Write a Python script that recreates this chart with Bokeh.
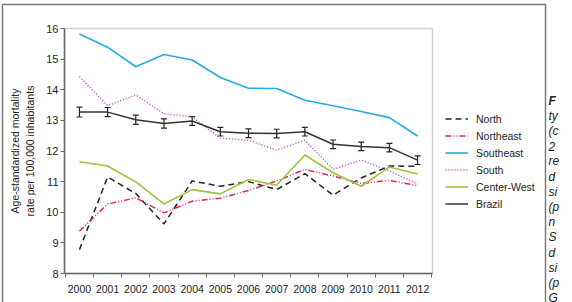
import math
from bokeh.plotting import figure
from bokeh.models import (ColumnDataSource, FixedTicker, Legend, LegendItem,
                          Whisker, TeeHead, Label, BoxAnnotation)
from bokeh.embed import file_html
from bokeh.resources import INLINE

# Age-standardized mortality rate per 100,000 inhabitants, by region
years = list(range(2000, 2013))
year_labels = [str(y) for y in years]
north = [8.78, 11.15, 10.61, 9.62, 11.02, 10.85, 11.00, 10.74, 11.26, 10.56, 11.12, 11.51, 11.50]
northeast = [9.38, 10.27, 10.47, 9.98, 10.36, 10.46, 10.71, 11.02, 11.40, 11.18, 10.94, 11.04, 10.87]
southeast = [15.82, 15.39, 14.75, 15.15, 14.97, 14.40, 14.05, 14.04, 13.66, 13.48, 13.29, 13.09, 12.49]
south = [14.43, 13.48, 13.83, 13.22, 13.11, 12.42, 12.35, 12.03, 12.35, 11.40, 11.70, 11.35, 10.92]
center_west = [11.65, 11.51, 10.99, 10.27, 10.74, 10.60, 11.07, 10.88, 11.87, 11.29, 10.85, 11.48, 11.25]
brazil = [13.27, 13.27, 13.02, 12.90, 12.98, 12.63, 12.58, 12.57, 12.63, 12.22, 12.15, 12.11, 11.70]
brazil_err = [0.16, 0.15, 0.15, 0.15, 0.14, 0.14, 0.14, 0.14, 0.14, 0.14, 0.14, 0.14, 0.14]
y_ticks = [8, 9, 10, 11, 12, 13, 14, 15, 16]
y_title = ["Age-standardized mortality", "rate per 100,000 inhabitants"]

# caption fragments at the right edge
caption = ["F", "ty", "(c", "2", "re", "d", "si", "(p", "n", "S", "d", "si", "(p", "G"]

SANS = "Liberation Sans"
W, H = 572, 302
# pixel box of the chart area inside the canvas
BOX_L, BOX_R, BOX_T, BOX_B = 64, 432, 28, 273
X_LO, X_HI = years[0] - 0.53, years[-1] + 0.53
Y_LO, Y_HI = y_ticks[0], y_ticks[-1]

# the frame fills the whole canvas; ranges are chosen so the chart area lands on the box above
sx = (BOX_R - BOX_L) / (X_HI - X_LO)
sy = (BOX_B - BOX_T) / (Y_HI - Y_LO)
x_range = (X_LO - BOX_L / sx, X_HI + (W - BOX_R) / sx)
y_range = (Y_LO - (H - BOX_B) / sy, Y_HI + BOX_T / sy)


def px_x(px):
    return x_range[0] + px / sx


def px_y(py):
    return y_range[1] - py / sy


p = figure(width=W, height=H, output_backend="svg", toolbar_location=None,
           x_range=x_range, y_range=y_range, min_border=0)
p.background_fill_color = "white"
p.border_fill_color = "white"
p.outline_line_color = None
p.grid.visible = False

# x axis: labels at year centres, tick marks on the year boundaries
xa = p.xaxis[0]
xa.fixed_location = Y_LO
xa.bounds = (X_LO, X_HI)
xa.ticker = FixedTicker(ticks=years, minor_ticks=[y + 0.5 for y in range(1999, 2013)])
xa.major_label_overrides = {y: s for y, s in zip(years, year_labels)}
xa.major_tick_line_color = None
xa.minor_tick_in = 0
xa.minor_tick_out = 4
xa.minor_tick_line_color = "#666666"
xa.axis_line_color = "#666666"
xa.axis_line_width = 1.5
xa.major_label_standoff = 5
xa.major_label_text_font = SANS
xa.major_label_text_font_size = "10.5px"
xa.major_label_text_color = "#222222"

ya = p.yaxis[0]
ya.fixed_location = X_LO
ya.bounds = (Y_LO, Y_HI)
ya.ticker = FixedTicker(ticks=y_ticks, minor_ticks=[])
ya.major_tick_in = 0
ya.major_tick_out = 4
ya.major_tick_line_color = "#666666"
ya.axis_line_color = "#666666"
ya.axis_line_width = 1.5
ya.major_label_standoff = 2
ya.major_label_text_font = SANS
ya.major_label_text_font_size = "11px"
ya.major_label_text_color = "#222222"

# top and right edges of the chart box
p.add_layout(BoxAnnotation(left=X_LO, right=X_HI, bottom=Y_LO, top=Y_HI,
                           fill_alpha=0, line_color="#666666", line_width=1.5, level="underlay"))

# outer panel border: left, top and right sides, running past the bottom edge
p.line(x=[px_x(2), px_x(2), px_x(545), px_x(545)],
       y=[px_y(H + 10), px_y(4), px_y(4), px_y(H + 10)],
       line_color="#7a7a7a", line_width=1.5)

src = ColumnDataSource(dict(year=years, north=north, northeast=northeast, southeast=southeast,
                            south=south, center_west=center_west, brazil=brazil,
                            lo=[b - e for b, e in zip(brazil, brazil_err)],
                            hi=[b + e for b, e in zip(brazil, brazil_err)]))

r_n = p.line("year", "north", source=src, line_color="#222222", line_width=1.5, line_dash="6 4")
r_ne = p.line("year", "northeast", source=src, line_color="#DD2A62", line_width=1.5, line_dash="6 2 1 2 1 2")
r_se = p.line("year", "southeast", source=src, line_color="#26AAE2", line_width=1.6)
r_s = p.line("year", "south", source=src, line_color="#B846C0", line_width=1.5, line_dash="1 2")
r_cw = p.line("year", "center_west", source=src, line_color="#9CC43C", line_width=1.6)
r_br = p.line("year", "brazil", source=src, line_color="#333333", line_width=1.5)

p.add_layout(Whisker(base="year", lower="lo", upper="hi", source=src,
                     line_color="#222222", line_width=1.2,
                     upper_head=TeeHead(size=6, line_color="#222222", line_width=1.2),
                     lower_head=TeeHead(size=6, line_color="#222222", line_width=1.2)))

legend = Legend(items=[
    LegendItem(label="North", renderers=[r_n]),
    LegendItem(label="Northeast", renderers=[r_ne]),
    LegendItem(label="Southeast", renderers=[r_se]),
    LegendItem(label="South", renderers=[r_s]),
    LegendItem(label="Center-West", renderers=[r_cw]),
    LegendItem(label="Brazil", renderers=[r_br]),
], location=(445, H - 212), orientation="vertical")
legend.border_line_color = None
legend.background_fill_alpha = 0
legend.padding = 0
legend.margin = 0
legend.spacing = 0
legend.label_height = 17
legend.glyph_height = 17
legend.glyph_width = 23
legend.label_standoff = 8
legend.label_text_font = SANS
legend.label_text_font_size = "10.5px"
legend.label_text_color = "#222222"
p.add_layout(legend)

# rotated two-line y-axis title
for txt, cx in zip(y_title, [14, 29]):
    p.add_layout(Label(x=cx, y=H - 150.5, x_units="screen", y_units="screen", text=txt,
                       angle=math.pi / 2, text_align="center", text_baseline="middle",
                       text_font=SANS, text_font_size="10.5px", text_color="#222222"))

for i, frag in enumerate(caption):
    cy = 100 + 15.2 * i
    p.add_layout(Label(x=548, y=H - cy, x_units="screen", y_units="screen", text=frag,
                       text_align="left", text_baseline="middle", text_font=SANS,
                       text_font_size="12px", text_font_style="bold italic" if i == 0 else "italic",
                       text_color="#222222"))

open("out.html", "w").write(file_html(p, INLINE))
